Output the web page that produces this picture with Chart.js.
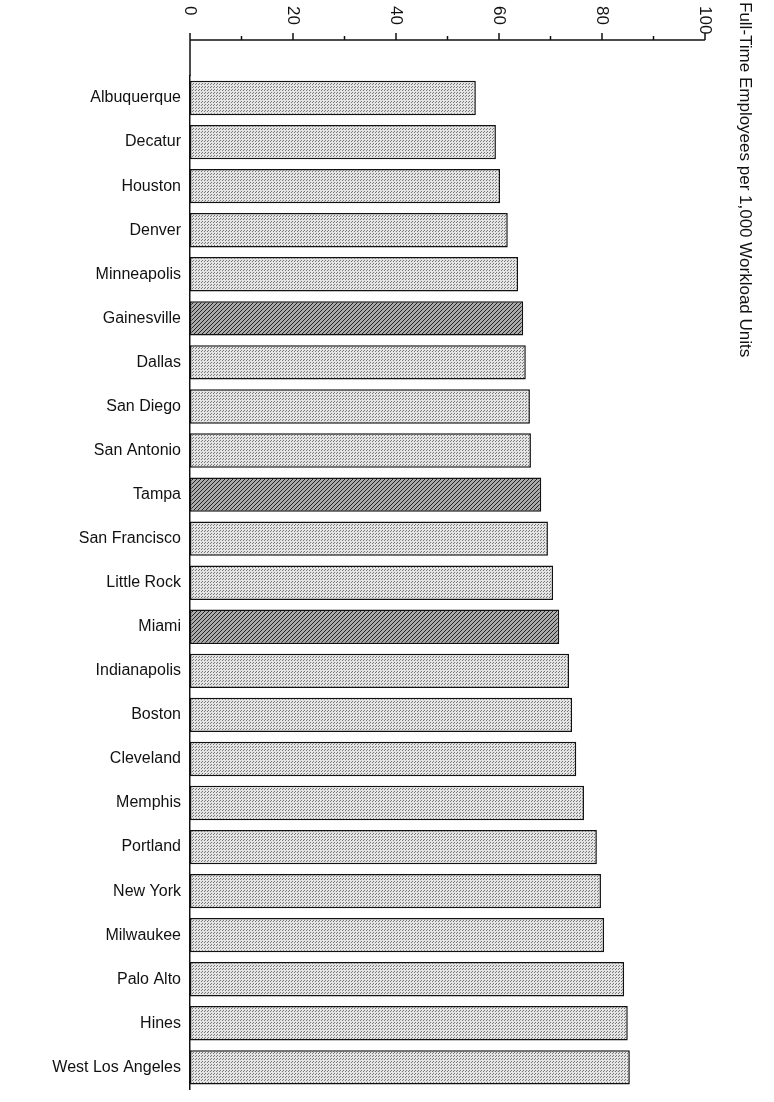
<!DOCTYPE html>
<html><head>
<script src="https://cdn.jsdelivr.net/npm/chart.js"></script>
<style>body{margin:0;background:#fff}#wrap{width:774px;height:1102px;position:relative}</style>
</head><body><div id="wrap"><canvas id="c"></canvas></div>
<script>
const cities = ['Albuquerque','Decatur','Houston','Denver','Minneapolis','Gainesville','Dallas','San Diego','San Antonio','Tampa','San Francisco','Little Rock','Miami','Indianapolis','Boston','Cleveland','Memphis','Portland','New York','Milwaukee','Palo Alto','Hines','West Los Angeles'];
const employees = [55.5,59.4,60.2,61.7,63.7,64.7,65.2,66,66.2,68.2,69.5,70.5,71.7,73.6,74.2,75,76.5,79,79.8,80.4,84.3,85,85.4];
const highlighted = ['Gainesville','Tampa','Miami'];
const tickValues = [0,20,40,60,80,100];
const axisTitle = 'Full-Time Employees per 1,000 Workload Units';
const font = '"Liberation Sans", Arial';
const axisGap = 36; // value axis sits above the first bar

function dotPattern() {
    const p = document.createElement('canvas'); p.width = 3; p.height = 3;
    const g = p.getContext('2d');
    g.fillStyle = '#e4e4e4'; g.fillRect(0,0,3,3);
    g.fillStyle = '#777'; g.fillRect(0,0,1,1); g.fillRect(1,2,1,1);
    return g.createPattern(p, 'repeat');
}
function hatchPattern() {
    const p = document.createElement('canvas'); p.width = 4; p.height = 4;
    const g = p.getContext('2d');
    g.fillStyle = '#aaa'; g.fillRect(0,0,4,4);
    g.strokeStyle = '#222'; g.lineWidth = 1;
    g.beginPath(); g.moveTo(0,4); g.lineTo(4,0); g.moveTo(-1,1); g.lineTo(1,-1); g.moveTo(3,5); g.lineTo(5,3); g.stroke();
    return g.createPattern(p, 'repeat');
}
const dots = dotPattern(), hatch = hatchPattern();

// top value axis drawn above the bars, labels and title read top-to-bottom
const sidePlugin = {
    id: 'sideText',
    afterDraw(chart) {
        const ctx = chart.ctx, x = chart.scales.x, area = chart.chartArea;
        const ay = area.top - axisGap;
        ctx.save();
        ctx.strokeStyle = '#111'; ctx.lineWidth = 1.5;
        ctx.beginPath();
        ctx.moveTo(area.left, ay); ctx.lineTo(x.getPixelForValue(100), ay);
        ctx.moveTo(area.left, ay); ctx.lineTo(area.left, area.top);
        for (let v = 0; v <= 100; v += 10) {
            const px = x.getPixelForValue(v);
            ctx.moveTo(px, ay); ctx.lineTo(px, ay - (v % 20 === 0 ? 7 : 4));
        }
        ctx.stroke();
        ctx.fillStyle = '#111';
        ctx.font = '17px ' + font;
        ctx.textBaseline = 'middle';
        tickValues.forEach(v => {
            ctx.save();
            ctx.translate(x.getPixelForValue(v), 6);
            ctx.rotate(Math.PI / 2);
            ctx.fillText(String(v), 0, 0);
            ctx.restore();
        });
        ctx.translate(745, 2);
        ctx.rotate(Math.PI / 2);
        ctx.fillText(axisTitle, 0, 0);
        ctx.restore();
    }
};

new Chart(document.getElementById('c'), {
    type: 'bar',
    data: {
        labels: cities,
        datasets: [{
            data: employees,
            backgroundColor: cities.map(c => highlighted.includes(c) ? hatch : dots),
            borderColor: '#111', borderWidth: 1.5, borderSkipped: false,
            categoryPercentage: 1, barPercentage: 0.78
        }]
    },
    options: {
        indexAxis: 'y', responsive: true, maintainAspectRatio: false, animation: false,
        layout: { padding: { left: 0, right: 69, top: 76, bottom: 8 } },
        plugins: { legend: { display: false }, tooltip: { enabled: false } },
        scales: {
            x: {
                position: 'top', min: 0, max: 100,
                grid: { display: false, drawTicks: false },
                border: { display: false },
                ticks: { display: false }
            },
            y: {
                afterFit(s) { s.width = 190; },
                grid: { display: false, tickLength: 6 },
                border: { color: '#111', width: 1.5 },
                ticks: { color: '#111', font: { size: 16, family: font } }
            }
        }
    },
    plugins: [sidePlugin]
});
</script></body></html>
